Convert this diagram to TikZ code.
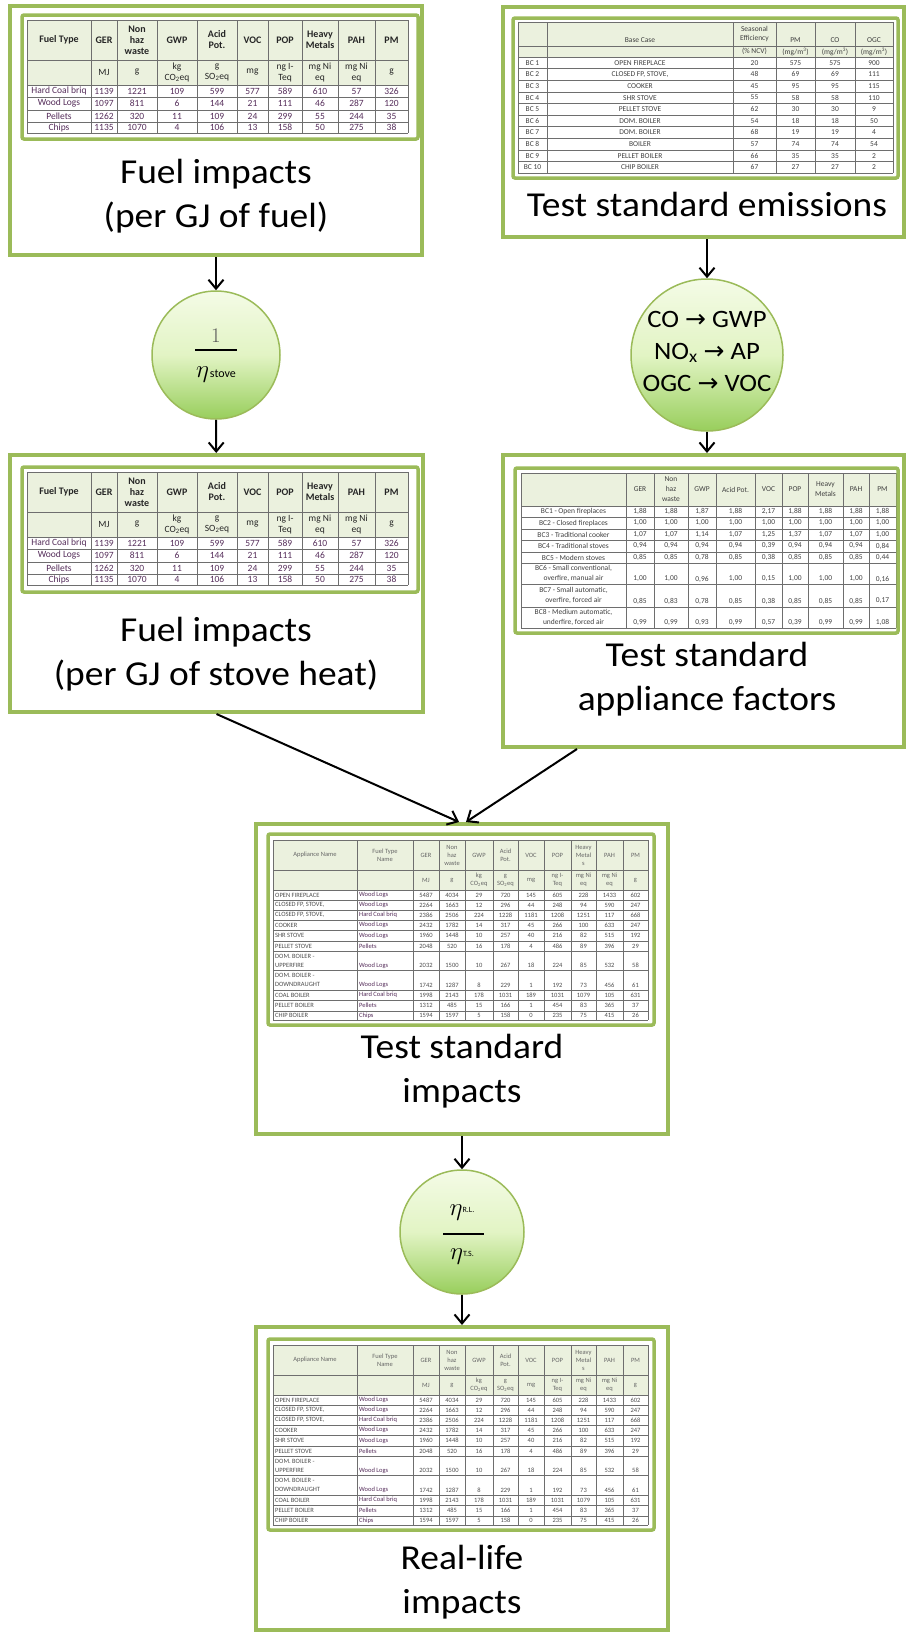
\documentclass[tikz,border=0pt]{standalone}
\usepackage{fontspec}
\setmainfont{Carlito}
\newfontfamily\titlefont[FakeStretch=1.07]{Carlito}
\newfontfamily\symfont{DejaVu Sans}
\usetikzlibrary{arrows.meta}

\definecolor{boxgreen}{RGB}{155,187,89}
\definecolor{hdrgreen}{RGB}{235,241,222}
\definecolor{circtop}{RGB}{244,251,230}
\definecolor{circmid}{RGB}{226,244,196}
\definecolor{circbot}{RGB}{152,206,92}
\definecolor{tabink}{RGB}{85,45,90}
\definecolor{tabgrid}{RGB}{110,110,110}

% column centres of the tables
\def\fuelcols{{59,104,137,177,217,252.5,285,320,356.5,391.5}}
\def\emiscols{{532.5,640,754.5,795.5,835,874}}
\def\factcols{{573.5,640,671,702,735.5,768.5,795,825.5,856,882.5}}
\def\factnums{{640,671,702,735.5,768.5,795,825.5,856,882.5}}
\def\impcols{{315,385,426,452,479,505.5,531,557.5,583.5,609.5,635.5}}
\def\impnums{{426,452,479,505.5,531,557.5,583.5,609.5,635.5}}
\newcommand{\dc}{,}

% one row of cells: name, column centres, y, style, texts
\newcommand{\tabrow}[5]{%
  \foreach \txt [count=\col] in {#5} {%
    \pgfmathsetmacro\cx{#2[\col-1]}%
    \node[#4] (#1-\col) at (\cx,#3) {\txt};
  }}

% fuel table, #2 = top
\newcommand{\fueltable}[2]{%
  \begin{scope}[shift={(0,#2)}]
    \fill[hdrgreen] (27,0) rectangle (408,65);
    \foreach \yy in {0,40,65,77,90,102,113} \draw[tabline] (27,\yy) -- (408,\yy);
    \foreach \xx in {27,91,117,157,197,237,268,302,338,375,408} \draw[tabline] (\xx,0) -- (\xx,113);
    \tabrow{#1-h}{\fuelcols}{20}{hdrA}{Fuel Type,GER,Non\\haz\\waste,GWP,Acid\\Pot.,VOC,POP,Heavy\\Metals,PAH,PM}
    \tabrow{#1-u}{\fuelcols}{52.5}{unitA}{{},MJ,g,kg\\CO\textsubscript{2}eq,g\\SO\textsubscript{2}eq,mg,ng I-\\Teq,mg Ni\\eq,mg Ni\\eq,g}
    \tabrow{#1-r1}{\fuelcols}{71}{cellA}{Hard Coal briq,1139,1221,109,599,577,589,610,57,326}
    \tabrow{#1-r2}{\fuelcols}{83.5}{cellA}{Wood Logs,1097,811,6,144,21,111,46,287,120}
    \tabrow{#1-r3}{\fuelcols}{96}{cellA}{Pellets,1262,320,11,109,24,299,55,244,35}
    \tabrow{#1-r4}{\fuelcols}{107.5}{cellA}{Chips,1135,1070,4,106,13,158,50,275,38}
  \end{scope}}

% impacts table, #2 = top
\newcommand{\impacttable}[2]{%
  \begin{scope}[shift={(0,#2)}]
    \fill[hdrgreen] (273,0) rectangle (648,50);
    \foreach \yy in {0,30,50,60,70,80,90,101,111,130,150,160,171,180} \draw[tabline] (273,\yy) -- (648,\yy);
    \foreach \xx in {273,357,413,439,465,493,518,544,571,596,623,648} \draw[tabline] (\xx,0) -- (\xx,180);
    \tabrow{#1-h}{\impcols}{15}{hdrD}{Appliance Name,Fuel Type\\Name,GER,Non\\haz\\waste,GWP,Acid\\Pot.,VOC,POP,Heavy\\Metal\\s,PAH,PM}
    \tabrow{#1-u}{\impcols}{40}{hdrD}{{},{},MJ,g,kg\\CO\textsubscript{2}eq,g\\SO\textsubscript{2}eq,mg,ng I-\\Teq,mg Ni\\eq,mg Ni\\eq,g}
    % appliance and fuel names
    \foreach \nm/\fu/\yy/\yf [count=\ri] in {OPEN FIREPLACE/Wood Logs/55/55, {CLOSED FP, STOVE,}/Wood Logs/65/65,
        {CLOSED FP, STOVE,}/Hard Coal briq/75/75, COOKER/Wood Logs/85/85, SHR STOVE/Wood Logs/95.5/95.5,
        PELLET STOVE/Pellets/106/106, DOM. BOILER -\\UPPERFIRE/Wood Logs/120.5/125.5,
        DOM. BOILER -\\DOWNDRAUGHT/Wood Logs/140/145, COAL BOILER/Hard Coal briq/155/155,
        PELLET BOILER/Pellets/165.5/165.5, CHIP BOILER/Chips/175.5/175.5} {
      \node[txtD, anchor=west, align=left] (#1-a\ri) at (275,\yy) {\nm};
      \node[txtD, anchor=west, text=tabink] (#1-f\ri) at (359,\yf) {\fu};
    }
    \tabrow{#1-n1}{\impnums}{55}{txtD}{5487,4034,29,720,145,605,228,1433,602}
    \tabrow{#1-n2}{\impnums}{65}{txtD}{2264,1663,12,296,44,248,94,590,247}
    \tabrow{#1-n3}{\impnums}{75}{txtD}{2386,2506,224,1228,1181,1208,1251,117,668}
    \tabrow{#1-n4}{\impnums}{85}{txtD}{2432,1782,14,317,45,266,100,633,247}
    \tabrow{#1-n5}{\impnums}{95.5}{txtD}{1960,1448,10,257,40,216,82,515,192}
    \tabrow{#1-n6}{\impnums}{106}{txtD}{2048,520,16,178,4,486,89,396,29}
    \tabrow{#1-n7}{\impnums}{125.5}{txtD}{2032,1500,10,267,18,224,85,532,58}
    \tabrow{#1-n8}{\impnums}{145}{txtD}{1742,1287,8,229,1,192,73,456,61}
    \tabrow{#1-n9}{\impnums}{155}{txtD}{1998,2143,178,1031,189,1031,1079,105,631}
    \tabrow{#1-n10}{\impnums}{165.5}{txtD}{1312,485,15,166,1,454,83,365,37}
    \tabrow{#1-n11}{\impnums}{175.5}{txtD}{1594,1597,5,158,0,235,75,415,26}
  \end{scope}}

\begin{document}
\begin{tikzpicture}[x=1pt,y=-1pt,
  >={Straight Barb[length=9pt,width=15pt]},
  panel/.style={draw=boxgreen,line width=4pt,inner sep=0pt},
  tabframe/.style={draw=boxgreen,line width=3.5pt,rounded corners=2pt},
  circ/.style={circle,draw=boxgreen,line width=1.5pt,inner sep=0pt,minimum size=#1,
    top color=circtop,bottom color=circbot,middle color=circmid},
  boxtitle/.style={align=center,inner sep=0pt,font=\fontsize{35}{44}\titlefont},
  flow/.style={->,line width=2pt},
  tabline/.style={draw=tabgrid,line width=0.6pt},
  celltxt/.style={inner sep=0pt,align=center},
  hdrA/.style={celltxt,text=black!85,font=\fontsize{10}{11}\selectfont\bfseries},
  unitA/.style={celltxt,text=black!85,font=\fontsize{9.5}{11}\selectfont},
  cellA/.style={celltxt,text=tabink,font=\fontsize{9.5}{11}\selectfont},
  txtB/.style={celltxt,text=black!75,font=\fontsize{7.5}{9}\selectfont},
  txtC/.style={celltxt,text=black!75,font=\fontsize{7.5}{10}\selectfont},
  hdrD/.style={celltxt,text=black!60,font=\fontsize{6.5}{8}\selectfont},
  txtD/.style={celltxt,text=black!70,font=\fontsize{6.5}{9}\selectfont}]

\useasboundingbox (0,0) rectangle (906,1634);

% panels
\node[panel,minimum width=412pt,minimum height=249pt] (fuel) at (216,130.5) {};
\node[panel,minimum width=401pt,minimum height=230pt] (emis) at (703.5,122) {};
\node[panel,minimum width=413pt,minimum height=257pt] (fuelheat) at (216.5,583.5) {};
\node[panel,minimum width=401pt,minimum height=292pt] (factors) at (703.5,601) {};
\node[panel,minimum width=412pt,minimum height=310pt] (tsimp) at (462,979) {};
\node[panel,minimum width=412pt,minimum height=303pt] (rlimp) at (462,1478.5) {};

% tables
\fueltable{fa}{20}
\fueltable{fb}{472}
\impacttable{tsi}{840}
\impacttable{rli}{1345}

% test standard emissions table
\fill[hdrgreen] (518,22) rectangle (893,57);
\foreach \yy in {22,46,57,68.6,80.2,91.8,103.4,115,126.6,138.2,149.8,161.4,173} \draw[tabline] (518,\yy) -- (893,\yy);
\foreach \xx in {518,547,733,776,815,855,893} \draw[tabline] (\xx,22) -- (\xx,173);
\tabrow{emis-h}{\emiscols}{40}{txtB}{{},Base Case,{},PM,CO,OGC}
\node[txtB] (emis-eff) at (754.5,34) {Seasonal\\Efficiency};
\tabrow{emis-u}{\emiscols}{51.5}{txtB}{{},{},(\% NCV),(mg/m\textsuperscript{3}),(mg/m\textsuperscript{3}),(mg/m\textsuperscript{3})}
\tabrow{emis-r1}{\emiscols}{62.8}{txtB}{BC 1,OPEN FIREPLACE,20,575,575,900}
\tabrow{emis-r2}{\emiscols}{74.4}{txtB}{BC 2,{CLOSED FP, STOVE,},48,69,69,111}
\tabrow{emis-r3}{\emiscols}{86}{txtB}{BC 3,COOKER,45,95,95,115}
\tabrow{emis-r4}{\emiscols}{97.6}{txtB}{BC 4,SHR STOVE,55,58,58,110}
\tabrow{emis-r5}{\emiscols}{109.2}{txtB}{BC 5,PELLET STOVE,62,30,30,9}
\tabrow{emis-r6}{\emiscols}{120.8}{txtB}{BC 6,DOM. BOILER,54,18,18,50}
\tabrow{emis-r7}{\emiscols}{132.4}{txtB}{BC 7,DOM. BOILER,68,19,19,4}
\tabrow{emis-r8}{\emiscols}{144}{txtB}{BC 8,BOILER,57,74,74,54}
\tabrow{emis-r9}{\emiscols}{155.6}{txtB}{BC 9,PELLET BOILER,66,35,35,2}
\tabrow{emis-r10}{\emiscols}{167.2}{txtB}{BC 10,CHIP BOILER,67,27,27,2}

% appliance factors table
\fill[hdrgreen] (521,473) rectangle (896,506);
\foreach \yy in {473,506,517,529,540,552,563,584,607,628} \draw[tabline] (521,\yy) -- (896,\yy);
\foreach \xx in {521,626,654,688,716,755,782,808,843,869,896} \draw[tabline] (\xx,473) -- (\xx,628);
\tabrow{fact-h}{\factcols}{489.5}{txtC}{{},GER,Non\\haz\\waste,GWP,Acid Pot.,VOC,POP,Heavy\\Metals,PAH,PM}
\foreach \nm/\yy [count=\ri] in {BC1 - Open fireplaces/511.5, BC2 - Closed fireplaces/523,
    BC3 - Traditional cooker/534.5, BC4 - Traditional stoves/546, BC5 - Modern stoves/557.5,
    {BC6 - Small conventional,\\overfire, manual air}/573.5, {BC7 - Small automatic,\\overfire, forced air}/595.5,
    {BC8 - Medium automatic,\\underfire, forced air}/617.5}
  \node[txtC] (fact-n\ri) at (573.5,\yy) {\nm};
\tabrow{fact-r1}{\factnums}{511.5}{txtC}{1\dc88,1\dc88,1\dc87,1\dc88,2\dc17,1\dc88,1\dc88,1\dc88,1\dc88}
\tabrow{fact-r2}{\factnums}{523}{txtC}{1\dc00,1\dc00,1\dc00,1\dc00,1\dc00,1\dc00,1\dc00,1\dc00,1\dc00}
\tabrow{fact-r3}{\factnums}{534.5}{txtC}{1\dc07,1\dc07,1\dc14,1\dc07,1\dc25,1\dc37,1\dc07,1\dc07,1\dc00}
\tabrow{fact-r4}{\factnums}{546}{txtC}{0\dc94,0\dc94,0\dc94,0\dc94,0\dc39,0\dc94,0\dc94,0\dc94,0\dc84}
\tabrow{fact-r5}{\factnums}{557.5}{txtC}{0\dc85,0\dc85,0\dc78,0\dc85,0\dc38,0\dc85,0\dc85,0\dc85,0\dc44}
\tabrow{fact-r6}{\factnums}{579}{txtC}{1\dc00,1\dc00,0\dc96,1\dc00,0\dc15,1\dc00,1\dc00,1\dc00,0\dc16}
\tabrow{fact-r7}{\factnums}{601}{txtC}{0\dc85,0\dc83,0\dc78,0\dc85,0\dc38,0\dc85,0\dc85,0\dc85,0\dc17}
\tabrow{fact-r8}{\factnums}{622.5}{txtC}{0\dc99,0\dc99,0\dc93,0\dc99,0\dc57,0\dc39,0\dc99,0\dc99,1\dc08}

% frames round the tables
\draw[tabframe] (22,15) rectangle (418,139);
\draw[tabframe] (513,18) rectangle (898,178);
\draw[tabframe] (22,467) rectangle (418,592);
\draw[tabframe] (515,468) rectangle (898,633);
\draw[tabframe] (268,834) rectangle (654,1025);
\draw[tabframe] (268,1339) rectangle (654,1530);

% panel titles
\node[boxtitle] (fuel-title) at (216,196) {Fuel impacts\\(per GJ of fuel)};
\node[boxtitle] (emis-title) at (707,204) {Test standard emissions};
\node[boxtitle] (fuelheat-title) at (216,654) {Fuel impacts\\(per GJ of stove heat)};
\node[boxtitle] (factors-title) at (707,679) {Test standard\\appliance factors};
\node[boxtitle] (tsimp-title) at (462,1071) {Test standard\\impacts};
\node[boxtitle] (rlimp-title) at (462,1582) {Real-life\\impacts};

% conversion circles
\node[circ=128pt] (stove) at (216,355) {};
\node[circ=152pt] (conv) at (707,355) {};
\node[circ=124pt] (eff) at (462,1232) {};

\node[text=black!65,font=\fontsize{20}{20}\selectfont] (stove-num) at (216,336) {$1$};
\draw[line width=1.3pt] (195,350) -- (237,350);
\node[font=\fontsize{26}{26}\selectfont] (stove-den) at (216,375) {$\eta$\hspace{1pt}{\fontsize{12}{12}\selectfont stove}};

\node[align=center,font=\fontsize{25}{32}\titlefont] (conv-txt) at (707,351)
  {CO {\symfont →} GWP\\NO\textsubscript{x} {\symfont →} AP\\OGC {\symfont →} VOC};

\node[font=\fontsize{26}{26}\selectfont] (eff-num) at (462,1213) {$\eta$\raisebox{3pt}{\fontsize{8}{8}\selectfont R.L.}};
\draw[line width=1.3pt] (443,1234) -- (484,1234);
\node[font=\fontsize{26}{26}\selectfont] (eff-den) at (462,1257) {$\eta$\raisebox{3pt}{\fontsize{8}{8}\selectfont T.S.}};

% connectors
\draw[flow] (fuel) -- (stove);
\draw[flow] (stove) -- (fuelheat);
\draw[flow] (emis.south -| conv) -- (conv);
\draw[flow] (conv) -- (factors.north -| conv);
\draw[flow] (fuelheat.south) -- ([xshift=-3pt]tsimp.north);
\draw[flow] ([xshift=76pt]factors.south west) -- ([xshift=4pt]tsimp.north);
\draw[flow] (tsimp) -- (eff);
\draw[flow] (eff) -- (rlimp);

\end{tikzpicture}
\end{document}
